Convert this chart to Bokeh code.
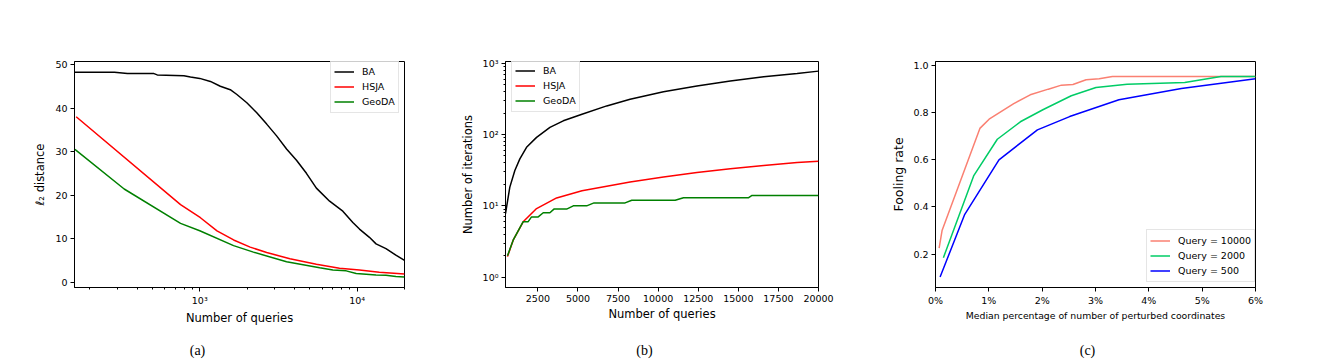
from bokeh.plotting import figure
from bokeh.layouts import row, column
from bokeh.models import Range1d, FixedTicker, Legend, LegendItem
from bokeh.core.properties import value
from bokeh.embed import file_html
from bokeh.resources import INLINE

# ---------------- data ----------------
# (a) l2 distance vs number of queries (log x)
a_ba_q = [161, 287, 347, 512, 537, 793, 873, 1000, 1168, 1351, 1563, 1722, 1991, 2303, 2663,
          3079, 3561, 4118, 4763, 5509, 6685, 8111, 9392, 10350, 11970, 13190, 15250, 17630, 20000]
a_ba_d = [48.2, 48.2, 47.9, 47.9, 47.6, 47.4, 47.1, 46.8, 46.1, 45.0, 44.2, 43.1, 41.2, 38.9, 36.3,
          33.6, 30.6, 28.0, 25.0, 21.6, 18.6, 16.3, 13.7, 12.2, 10.3, 8.8, 7.7, 6.2, 5.0]
a_hsja_q = [164, 755, 1010, 1287, 1641, 2091, 2663, 3741, 5509, 7726, 10350, 13830, 20000]
a_hsja_d = [38.0, 17.8, 14.8, 11.8, 9.7, 8.06, 6.8, 5.4, 4.1, 3.2, 2.8, 2.3, 1.9]
a_geoda_q = [161, 331, 755, 1000, 1640, 2193, 3561, 5781, 7013, 8524, 9864, 13190, 15250, 17630, 20000]
a_geoda_d = [30.5, 21.4, 13.5, 11.8, 8.4, 6.9, 4.7, 3.3, 2.8, 2.6, 2.0, 1.66, 1.6, 1.3, 1.2]
a_xticks = [1000, 10000]
a_xtick_labels = ["10\u00b3", "10\u2074"]
a_xminor = [200, 300, 400, 500, 600, 700, 800, 900, 2000, 3000, 4000, 5000, 6000, 7000, 8000, 9000, 20000]
a_yticks = [0, 10, 20, 30, 40, 50]

# (b) number of iterations vs number of queries (log y)
b_ba_q = [480, 750, 1063, 1375, 1792, 2417, 3250, 4083, 5250, 6792, 8250, 10333, 12417, 14500,
          16583, 18667, 20000]
b_ba_it = [7.8, 18.3, 31.3, 45.5, 66.2, 91.2, 125.7, 155.6, 192.8, 251.8, 311.9, 399, 478.6, 562,
           646, 718, 774]
b_hsja_q = [604, 958, 1583, 2417, 3667, 5250, 8250, 10333, 12417, 14500, 16583, 18667, 20000]
b_hsja_it = [1.94, 3.3, 5.97, 9.15, 12.9, 16.3, 21.6, 25.3, 29.4, 33.0, 36.8, 40.5, 42.2]
b_geoda_q = [604, 958, 1583, 1896, 2104, 2521, 2833, 3250, 3500, 4292, 4708, 5542, 6000, 7938,
             8354, 11063, 11583, 15646, 15854, 20000]
b_geoda_it = [2, 3.3, 6, 6, 7, 7, 8, 8, 9, 9, 10, 10, 11, 11, 12, 12, 13, 13, 14, 14]
b_xticks = [2500, 5000, 7500, 10000, 12500, 15000, 17500, 20000]
b_yticks = [1, 10, 100, 1000]
b_ytick_labels = ["10\u2070", "10\u00b9", "10\u00b2", "10\u00b3"]
b_yminor = [m * d for d in (1, 10, 100) for m in (2, 3, 4, 5, 6, 7, 8, 9)]

# (c) fooling rate vs median percentage of perturbed coordinates
c_q10000_x = [0.068, 0.123, 0.832, 1.005, 1.221, 1.467, 1.776, 2.115, 2.361, 2.577, 2.824, 3.07, 3.317, 6.0]
c_q10000_y = [0.226, 0.300, 0.732, 0.771, 0.802, 0.837, 0.874, 0.898, 0.915, 0.918, 0.938, 0.942, 0.952, 0.952]
c_q2000_x = [0.148, 0.715, 1.159, 1.591, 2.022, 2.546, 3.009, 3.594, 4.673, 5.352, 6.0]
c_q2000_y = [0.185, 0.531, 0.686, 0.760, 0.812, 0.870, 0.905, 0.919, 0.926, 0.952, 0.952]
c_q500_x = [0.086, 0.543, 1.190, 1.911, 2.515, 3.44, 4.61, 6.0]
c_q500_y = [0.103, 0.366, 0.599, 0.726, 0.782, 0.853, 0.901, 0.942]
c_xticks = [0, 1, 2, 3, 4, 5, 6]
c_xtick_labels = ["0%", "1%", "2%", "3%", "4%", "5%", "6%"]
c_yticks = [0.2, 0.4, 0.6, 0.8, 1.0]
c_ytick_labels = ["0.2", "0.4", "0.6", "0.8", "1.0"]

captions = ["(a)", "(b)", "(c)"]

FONT = "DejaVu Sans"
SERIF = "Liberation Serif"
TICK_FS = "9.5px"
LAB_FS = "11.5px"
H = 340          # height of each chart
W_TOTAL = 1319   # total width of the row
CAP_H = 20       # height of the caption strip
cap_pos = [197, 644, 1087]   # caption centres (layout, px)


def base(width, bl, br, bt, bb, **kw):
    p = figure(width=width, height=H, output_backend="svg", toolbar_location=None,
               min_border_left=bl, min_border_right=br, min_border_top=bt, min_border_bottom=bb, **kw)
    p.xgrid.visible = False
    p.ygrid.visible = False
    p.outline_line_color = "black"
    p.outline_line_width = 1
    p.background_fill_color = "white"
    p.border_fill_color = "white"
    for ax in (p.xaxis[0], p.yaxis[0]):
        ax.axis_line_color = "black"
        ax.major_tick_line_color = "black"
        ax.minor_tick_line_color = "black"
        ax.major_tick_out = 4
        ax.major_tick_in = 0
        ax.minor_tick_out = 2
        ax.minor_tick_in = 0
        ax.major_label_text_font = FONT
        ax.major_label_text_font_size = TICK_FS
        ax.major_label_text_color = "black"
        ax.axis_label_text_font = FONT
        ax.axis_label_text_font_size = LAB_FS
        ax.axis_label_text_font_style = "normal"
        ax.axis_label_text_color = "black"
        ax.major_label_standoff = 3
        ax.axis_label_standoff = 5
    p.xaxis[0].axis_label_standoff = 2
    return p


def legend(p, items, loc):
    leg = Legend(items=[LegendItem(label=l, renderers=[r]) for l, r in items], location=loc,
                 glyph_width=20, glyph_height=15, label_height=15, label_standoff=8, spacing=0,
                 padding=3, margin=0, label_text_font=FONT, label_text_font_size="9.5px",
                 label_text_color="black",
                 border_line_color="#cccccc", border_line_width=1, background_fill_alpha=0.8)
    p.add_layout(leg, "center")


# ---------- (a) ----------
pa = base(448, 74, 44, 58, H - 287, x_axis_type="log",
          x_range=Range1d(160, 20000), y_range=Range1d(-1.22, 50.68))
ra1 = pa.line(a_ba_q, a_ba_d, line_color="black", line_width=1.5)
ra2 = pa.line(a_hsja_q, a_hsja_d, line_color="red", line_width=1.5)
ra3 = pa.line(a_geoda_q, a_geoda_d, line_color="green", line_width=1.5)
pa.xaxis[0].ticker = FixedTicker(ticks=a_xticks, minor_ticks=a_xminor)
pa.xaxis[0].major_label_overrides = dict(zip(a_xticks, a_xtick_labels))
pa.yaxis[0].ticker = FixedTicker(ticks=a_yticks, minor_ticks=[])
pa.xaxis[0].axis_label = "Number of queries"
pa.yaxis[0].axis_label = "\u2113\u2082 distance"
legend(pa, [("BA", ra1), ("HSJA", ra2), ("GeoDA", ra3)], (256, 174))

# ---------- (b) ----------
pb = base(440, 57, 70, 61, H - 288, y_axis_type="log",
          x_range=Range1d(480, 20000), y_range=Range1d(0.716, 1056))
rb1 = pb.line(b_ba_q, b_ba_it, line_color="black", line_width=1.5)
rb2 = pb.line(b_hsja_q, b_hsja_it, line_color="red", line_width=1.5)
rb3 = pb.line(b_geoda_q, b_geoda_it, line_color="green", line_width=1.5)
pb.xaxis[0].ticker = FixedTicker(ticks=b_xticks, minor_ticks=[])
pb.yaxis[0].ticker = FixedTicker(ticks=b_yticks, minor_ticks=b_yminor)
pb.yaxis[0].major_label_overrides = dict(zip(b_yticks, b_ytick_labels))
pb.xaxis[0].axis_label = "Number of queries"
pb.yaxis[0].axis_label = "Number of iterations"
legend(pb, [("BA", rb1), ("HSJA", rb2), ("GeoDA", rb3)], (6, 175))

# ---------- (c) ----------
pc = base(431, 42, 64, 59, H - 291, x_range=Range1d(0, 6), y_range=Range1d(0.059, 1.015))
rc1 = pc.line(c_q10000_x, c_q10000_y, line_color="#fa8072", line_width=1.5)
rc2 = pc.line(c_q2000_x, c_q2000_y, line_color="#00cc66", line_width=1.5)
rc3 = pc.line(c_q500_x, c_q500_y, line_color="blue", line_width=1.5)
pc.xaxis[0].ticker = FixedTicker(ticks=c_xticks, minor_ticks=[])
pc.xaxis[0].major_label_overrides = dict(zip(c_xticks, c_xtick_labels))
pc.yaxis[0].ticker = FixedTicker(ticks=c_yticks, minor_ticks=[])
pc.yaxis[0].major_label_overrides = dict(zip(c_yticks, c_ytick_labels))
pc.xaxis[0].axis_label = "Median percentage of number of perturbed coordinates"
pc.xaxis[0].axis_label_text_font_size = "9.3px"
pc.xaxis[0].axis_label_standoff = 1
pc.yaxis[0].axis_label = "Fooling rate"
pc.yaxis[0].axis_label_text_font_size = "12.5px"
pc.yaxis[0].major_label_standoff = 3
pc.yaxis[0].axis_label_standoff = 4
legend(pc, [("Query = 10000", rc1), ("Query = 2000", rc2), ("Query = 500", rc3)], (211, 5))

# ---------- caption strip ----------
ps = figure(width=W_TOTAL, height=CAP_H, output_backend="svg", toolbar_location=None,
            x_range=Range1d(0, W_TOTAL), y_range=Range1d(0, CAP_H), min_border=0)
ps.axis.visible = False
ps.grid.visible = False
ps.outline_line_color = None
ps.background_fill_color = "white"
ps.border_fill_color = "white"
ps.text(x=cap_pos, y=[CAP_H / 2] * len(captions), text=captions, text_align="center",
        text_baseline="middle", text_font=value(SERIF), text_font_size="14px", text_color="black")

layout = column(row(pa, pb, pc), ps)
open("out.html", "w").write(file_html(layout, INLINE))
